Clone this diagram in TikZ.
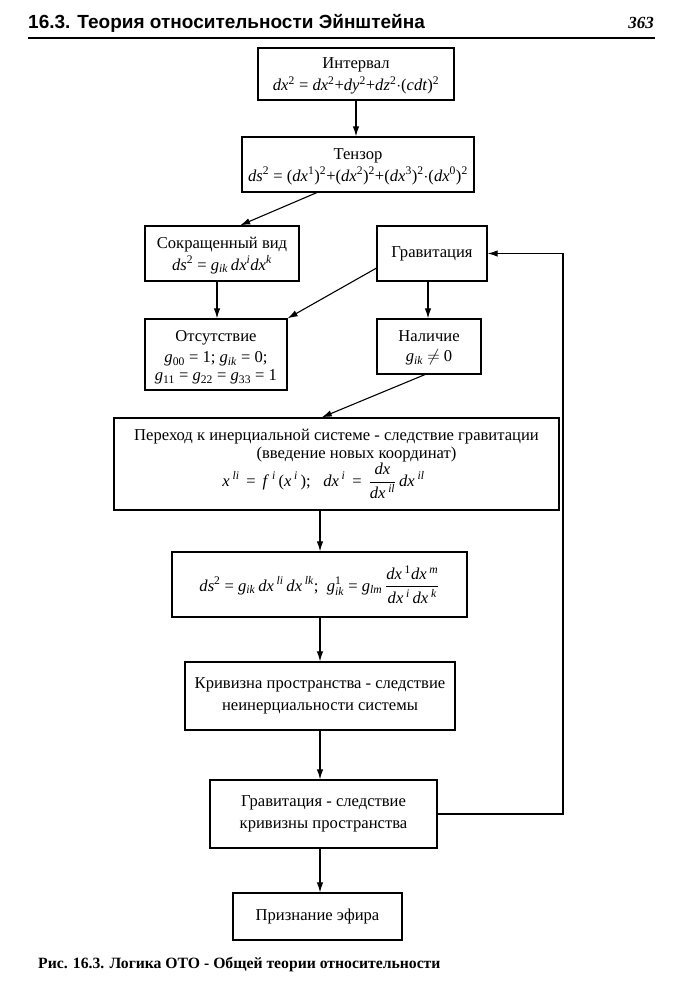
\documentclass[tikz,border=0pt]{standalone}
\usepackage{fontspec}
\usepackage{amsmath}
\setmainfont{Liberation Serif}
\newfontfamily\hdrfont{Liberation Sans}
\usetikzlibrary{arrows.meta,calc}
\newcommand{\mi}[1]{\textit{#1}}
\newcommand{\sps}[1]{\textsuperscript{#1}}
\newcommand{\sbs}[1]{\textsubscript{#1}}
\newcommand{\myfrac}[2]{$\dfrac{\text{#1}}{\text{#2}}$}
\begin{document}
\begin{tikzpicture}[x=1pt,y=-1pt,
  box/.style={draw,line width=1.3pt,inner sep=0pt,align=center,font=\fontsize{16.6}{22}\selectfont},
  arr/.style={line width=1.1pt,-{Latex[length=10pt,width=6.5pt]}}]
\useasboundingbox (0,0) rectangle (683,1000);
% header
\node[anchor=base west,inner sep=0pt,font=\hdrfont\bfseries\fontsize{19}{19}\selectfont] (hdr) at (28,29) {16.3. Теория относительности Эйнштейна};
\node[anchor=base east,inner sep=0pt,font=\bfseries\itshape\fontsize{17}{17}\selectfont] (pg) at (654,29) {363};
\coordinate (rl) at (28,38);
\coordinate (rr) at (655,38);
\draw[line width=1.2pt] (rl) -- (rr);
% boxes
\node[box,minimum width=196pt,minimum height=52pt] (int) at (356,74)
  {\rule{0pt}{15pt}Интервал\\ \mi{dx}\sps{2} = \mi{dx}\sps{2}+\mi{dy}\sps{2}+\mi{dz}\sps{2}$\cdot$(\mi{cdt})\sps{2}};
\node[box,minimum width=232pt,minimum height=55pt] (ten) at (358,164.5)
  {\rule{0pt}{15pt}Тензор\\ \mi{ds}\sps{2} = (\mi{dx}\sps{1})\sps{2}+(\mi{dx}\sps{2})\sps{2}+(\mi{dx}\sps{3})\sps{2}$\cdot$(\mi{dx}\sps{0})\sps{2}};
\node[box,minimum width=154pt,minimum height=55pt] (sok) at (222,253.5)
  {\rule{0pt}{15pt}Сокращенный вид\\ \mi{ds}\sps{2} = \mi{g}\sbs{\mi{ik}}\,\mi{dx}\sps{\mi{i}}\mi{dx}\sps{\mi{k}}};
\node[box,minimum width=110pt,minimum height=55pt] (grav) at (432,253.5) {Гравитация};
\node[box,minimum width=142pt,minimum height=71pt] (ots) at (216,354.5)
  {\rule{0pt}{17pt}Отсутствие\\[-1pt] \mi{g}\sbs{00} = 1; \mi{g}\sbs{\mi{ik}} = 0;\\[-4pt] \mi{g}\sbs{11} = \mi{g}\sbs{22} = \mi{g}\sbs{33} = 1};
\node[box,minimum width=104pt,minimum height=55pt] (nal) at (429,346.5)
  {\rule{0pt}{14pt}Наличие\\[-2pt] \mi{g}\sbs{\mi{ik}} $\neq$ 0};
\node[box,minimum width=445pt,minimum height=92pt] (per) at (336.5,464)
  {Переход к инерциальной системе - следствие гравитации\\[-4pt]
   \hspace*{40pt}(введение новых координат)\\[0pt]
   \mi{x}\,\sps{\mi{li}} \,=\, \mi{f}\,\sps{\mi{i}}\,(\mi{x}\,\sps{\mi{i}}\,); \ \ \mi{dx}\,\sps{\mi{i}} \,=\, \myfrac{\mi{dx}}{\mi{dx}\,\sps{\mi{il}}}\,\mi{dx}\,\sps{\mi{il}}\hspace*{26pt}};
\node[box,minimum width=295pt,minimum height=65pt] (ds) at (319.5,584.5)
  {\mi{ds}\sps{2} = \mi{g}\sbs{\mi{ik}}\,\mi{dx}\,\sps{\mi{li}}\,\mi{dx}\,\sps{\mi{lk}}; \ $\text{\mi{g}}^{\text{1}}_{\text{\mi{ik}}}$ = \mi{g}\sbs{\mi{lm}}\,\myfrac{\mi{dx}\,\sps{1}\mi{dx}\,\sps{\mi{m}}}{\mi{dx}\,\sps{\mi{i}}\,\mi{dx}\,\sps{\mi{k}}}};
\node[box,minimum width=270pt,minimum height=68pt] (kri) at (320,696)
  {Кривизна пространства - следствие\\ неинерциальности системы};
\node[box,minimum width=227pt,minimum height=68pt] (gs) at (323.5,814)
  {Гравитация - следствие\\ кривизны пространства};
\node[box,minimum width=169pt,minimum height=47pt] (pri) at (317.5,916.5) {Признание эфира};
% caption
\node[anchor=base west,inner sep=0pt,font=\bfseries\fontsize{15.7}{15.7}\selectfont] (cap) at (38,968)
  {Рис. 16.3. Логика ОТО - Общей теории относительности};
% connectors
\draw[arr] (int.south) -- (ten.north -| int.south);
\draw[arr] ($(ten.south west)!0.323!(ten.south east)$) -- ($(sok.north west)!0.617!(sok.north east)$);
\draw[arr] (sok.south -| 217,0) -- (ots.north -| 217,0);
\draw[arr] ($(grav.north west)!0.76!(grav.south west)$) -- (ots.north east);
\draw[arr] (grav.south -| 428,0) -- (nal.north -| 428,0);
\draw[arr] ($(nal.south west)!0.46!(nal.south east)$) -- ($(per.north west)!0.467!(per.north east)$);
\draw[arr] (per.south -| 320,0) -- (ds.north -| 320,0);
\draw[arr] (ds.south -| 320,0) -- (kri.north -| 320,0);
\draw[arr] (kri.south -| 320,0) -- (gs.north -| 320,0);
\draw[arr] (gs.south -| 320,0) -- (pri.north -| 320,0);
\coordinate (fbB) at (563,814);
\draw[arr] (gs.east) -- (fbB) |- (grav.east);
\end{tikzpicture}
\end{document}
